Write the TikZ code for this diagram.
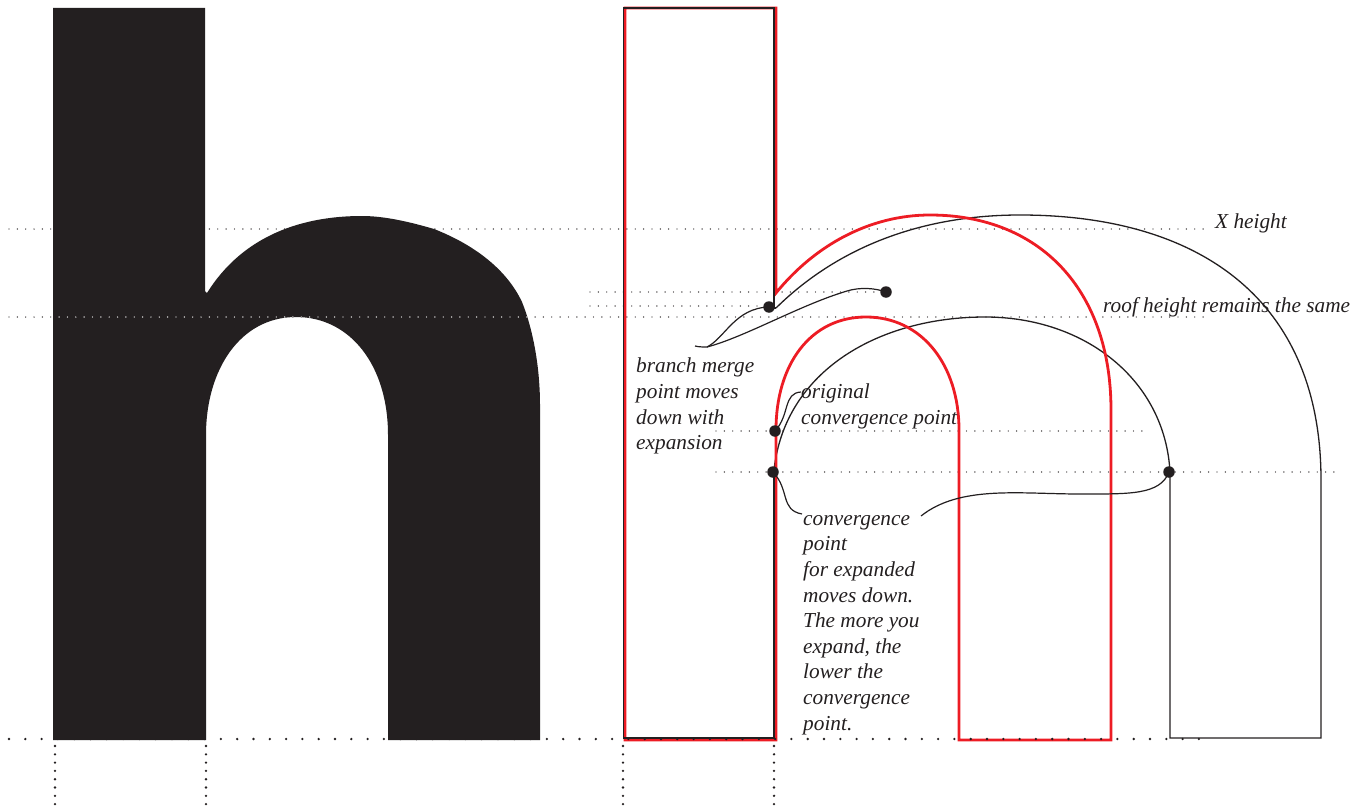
\documentclass[tikz,border=0pt]{standalone}
\usepackage{fontspec}
\setmainfont{Liberation Serif}
\definecolor{ink}{HTML}{231F20}
\definecolor{redline}{HTML}{ED1C24}
\tikzset{
  finedots/.style={ink,line width=1.4pt,line cap=round,dash pattern=on 0pt off 8.35pt},
  heavydots/.style={ink,line width=2.6pt,line cap=round,dash pattern=on 0pt off 16.3pt},
  vertdots/.style={ink,line width=2.6pt,line cap=round,dash pattern=on 0pt off 8.3pt},
  blackline/.style={ink,line width=1.3pt,line join=miter},
  redoutline/.style={redline,line width=2.8pt,line join=miter},
  leader/.style={ink,line width=1.2pt},
  bullet/.style={circle,fill=ink,inner sep=0pt,minimum size=11.5pt},
  note/.style={text=ink,font=\itshape\fontsize{21.3}{25.6}\selectfont,align=left,anchor=north west,inner sep=0pt}
}
\newcommand{\glyphpath}{(53,8) -- (205,8) -- (205,291) -- (207,293)
  .. controls (240,240) and (295,216) .. (362,216)
  .. controls (385,216) and (410,222) .. (434,229)
  .. controls (475,245) and (507,270) .. (522,302)
  .. controls (534,332) and (540,370) .. (540,405)
  -- (540,740) -- (388,740) -- (388,435)
  .. controls (388,365) and (350,317) .. (296,317)
  .. controls (240,317) and (206,370) .. (206,435)
  -- (206,740) -- (53,740) -- cycle}
\begin{document}
\begin{tikzpicture}[x=1pt,y=-1pt]
\useasboundingbox (0,0) rectangle (1368,808);
% guide lines
\draw[finedots] (9,229) -- (1205,229);
\draw[finedots] (9,317) -- (1205,317);
\draw[finedots] (590,292) -- (886,292);
\draw[finedots] (590,306) -- (770,306);
\draw[finedots] (716,431) -- (1142,431);
\draw[finedots] (716,472) -- (1340,472);
\draw[vertdots] (55,746) -- (55,808);
\draw[vertdots] (206,746) -- (206,808);
\draw[vertdots] (623,746) -- (623,808);
\draw[vertdots] (774,746) -- (774,808);
% expanded outline, black
\draw[blackline] (776,308)
  .. controls (840,245) and (925,215) .. (1020,215)
  .. controls (1200,215) and (1321,300) .. (1321,480)
  -- (1321,738) -- (1170,738) -- (1170,472)
  .. controls (1165,380) and (1085,317) .. (985,317)
  .. controls (880,317) and (785,370) .. (774,470);
% red outline
\draw[redoutline] (625,8) -- (776,8) -- (776,293)
  .. controls (815,245) and (870,215) .. (930,215)
  .. controls (1040,215) and (1111,290) .. (1111,410)
  -- (1111,740) -- (959,740) -- (959,430)
  .. controls (959,365) and (922,317) .. (866,317)
  .. controls (810,317) and (776,365) .. (776,430)
  -- (776,740) -- (625,740) -- cycle;
% black stem over the red
\draw[blackline] (776,308) -- (774,308) -- (774,8) -- (623.6,8) -- (623.6,738) -- (774,738) -- (774,470);
\draw[heavydots] (9,739) -- (1205,739);
% solid h
\fill[ink] \glyphpath;
\begin{scope}
\clip \glyphpath;
\draw[finedots,white] (9,317) -- (1205,317);
\end{scope}
% points
\node[bullet] (merge) at (769,307) {};
\node[bullet] (branch) at (886,292) {};
\node[bullet] (orig) at (775,431) {};
\node[bullet] (conv) at (773,472) {};
\node[bullet] (convr) at (1169,472) {};
% free ends
\coordinate (bstart) at (695,346);
\coordinate (bmid) at (707,347);
\coordinate (oend) at (801,392);
\coordinate (cend) at (802,514);
\coordinate (rend) at (921,516);
% leaders
\draw[leader] (bstart) .. controls (699,347) and (703,347) .. (bmid)
  .. controls (725,338) and (735,308) .. (merge.center);
\draw[leader] (bmid) .. controls (745,337) and (800,305) .. (847,291)
  .. controls (860,287) and (875,288) .. (branch.center);
\draw[leader] (orig.center) .. controls (790,415) and (783,393) .. (oend);
\draw[leader] (conv.center) .. controls (790,490) and (780,510) .. (cend);
\draw[leader] (rend) .. controls (960,485) and (1020,494) .. (1080,494)
  .. controls (1130,494) and (1160,495) .. (convr.center);
% labels
\node[note] (xh) at (1215,214) {X height};
\node[note] (roof) at (1103,297) {roof height remains the same};
\node[note] (bl) at (636,358) {branch merge\\point moves\\down with\\expansion};
\node[note] (ol) at (801,384) {original\\convergence point};
\node[note] (cl) at (803,515) {convergence\\point\\for expanded\\moves down.\\The more you\\expand, the\\lower the\\convergence\\point.};
\end{tikzpicture}
\end{document}
